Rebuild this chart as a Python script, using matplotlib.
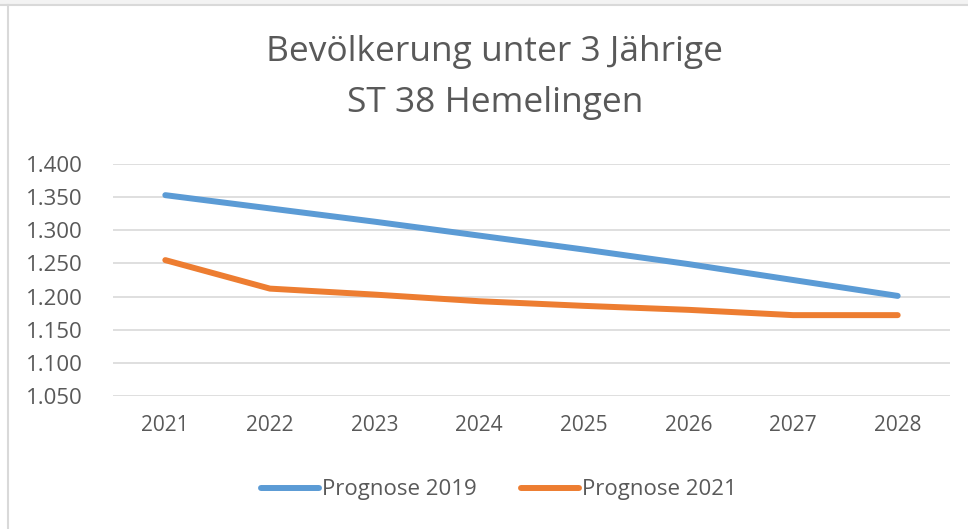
import numpy as np
import matplotlib.pyplot as plt
from matplotlib.ticker import FuncFormatter

years = ['2021', '2022', '2023', '2024', '2025', '2026', '2027', '2028']
prognose_2019 = [1353, 1333, 1313, 1292, 1271, 1249, 1225, 1201]
prognose_2021 = [1255, 1212, 1203, 1193, 1186, 1180, 1172, 1172]
y_ticks = [1050, 1100, 1150, 1200, 1250, 1300, 1350, 1400]

plt.rcParams['font.family'] = ['Open Sans', 'DejaVu Sans']
grey = '#595959'

fig = plt.figure(figsize=(9.68, 5.29), dpi=100)
fig.patch.set_facecolor('white')
# Rand vom Screenshot (oben und links)
fig.add_artist(plt.Line2D([0, 1], [1 - 5/529, 1 - 5/529], color='#d9d9d9', lw=1.5))
fig.add_artist(plt.Line2D([8/968, 8/968], [0, 1 - 5/529], color='#d9d9d9', lw=1.5))
fig.add_artist(plt.Rectangle((0, 1 - 5/529), 1, 5/529, color='#f3f3f3', lw=0))

ax = fig.add_axes([113/968, 1 - 396/529, (950 - 113)/968, (396 - 164)/529])
x = np.arange(len(years))
ax.plot(x, prognose_2019, color='#5b9bd5', lw=4.3, solid_capstyle='round',
        solid_joinstyle='round', label='Prognose 2019')
ax.plot(x, prognose_2021, color='#ed7d31', lw=4.3, solid_capstyle='round',
        solid_joinstyle='round', label='Prognose 2021')

ax.set_xlim(-0.5, len(years) - 0.5)
ax.set_ylim(1050, 1400)
ax.set_yticks(y_ticks)
ax.yaxis.set_major_formatter(FuncFormatter(lambda v, p: f'{v/1000:.3f}'))
ax.set_xticks(x)
ax.set_xticklabels(years)
ax.grid(axis='y', color='#d9d9d9', lw=1.2)
ax.set_axisbelow(True)
for s in ax.spines.values():
    s.set_visible(False)
ax.tick_params(length=0, labelsize=15, colors=grey)
ax.tick_params(axis='y', labelsize=16, pad=22)
ax.tick_params(axis='x', pad=14)

fig.text(495/968, 1 - 52/529, 'Bevölkerung unter 3 Jährige', ha='center', va='center',
         fontsize=25.5, color=grey)
fig.text(495/968, 1 - 103/529, 'ST 38 Hemelingen', ha='center', va='center',
         fontsize=25.5, color=grey)

fig.legend(loc='center', bbox_to_anchor=(499/968, 1 - 490/529), ncol=2, frameon=False,
           fontsize=16, labelcolor=grey, handlelength=2.6, handletextpad=0.15,
           columnspacing=2.0)

fig.savefig('out.png', dpi=100)
